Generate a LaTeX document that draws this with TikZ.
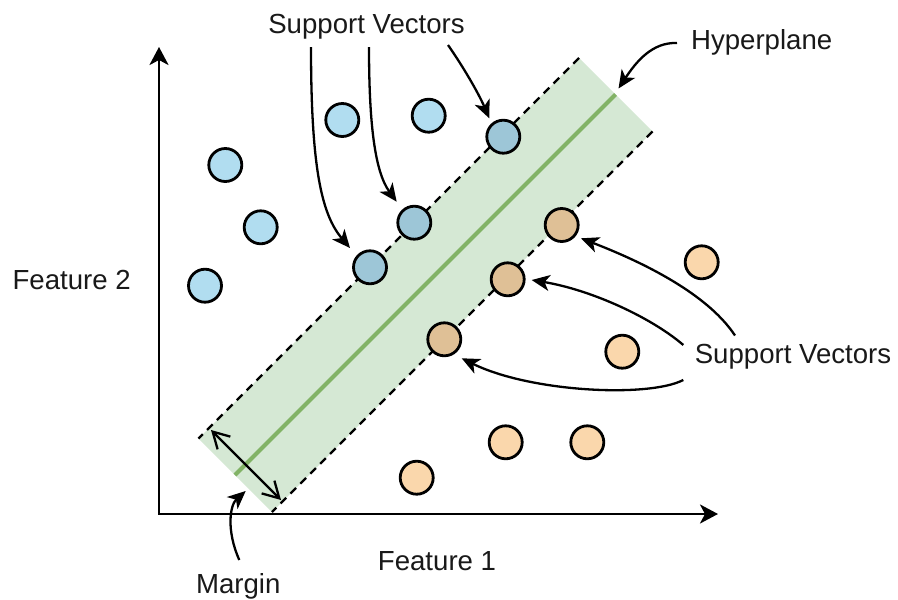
\documentclass[tikz,border=0pt]{standalone}
\usepackage{fontspec}
\setmainfont{Liberation Sans}
\usetikzlibrary{arrows.meta,calc}

\definecolor{bandgreen}{HTML}{D5E8D4}
\definecolor{planegreen}{HTML}{82B366}
\definecolor{blueA}{HTML}{B1DDF0}
\definecolor{blueSV}{HTML}{9DC6D7}
\definecolor{orangeA}{HTML}{FAD7AC}
\definecolor{orangeSV}{HTML}{DFC096}

\begin{document}
\begin{tikzpicture}[x=1pt,y=-1pt,
  datapt/.style={circle,draw=black,line width=2.8pt,minimum size=33pt,inner sep=0pt},
  classA/.style={datapt,fill=blueA},
  classAsv/.style={datapt,fill=blueSV},
  classB/.style={datapt,fill=orangeA},
  classBsv/.style={datapt,fill=orangeSV},
  lbl/.style={font=\fontsize{27.6}{33}\selectfont,anchor=base,inner sep=0pt,text=black!90},
  callout/.style={line width=2.3pt,-{Stealth[length=18pt,width=16pt,inset=5pt]}},
  axisline/.style={line width=2.8pt,-{Stealth[length=18pt,width=19pt,inset=5pt]}},
  marginline/.style={line width=2.3pt,dash pattern=on 8pt off 6pt},
  widthline/.style={line width=2.3pt,{Straight Barb[length=16pt,width=18pt]}-{Straight Barb[length=16pt,width=18pt]}}
]
\useasboundingbox (0,0) rectangle (898,600);
\fill[white] (0,0) rectangle (898,600);

% margin band corners and hyperplane ends
\coordinate (bandTL) at (579,58);
\coordinate (bandTR) at (652.5,131.5);
\coordinate (bandBR) at (272,512);
\coordinate (bandBL) at (198.5,438.5);
\coordinate (hpTop) at (615.5,94.5);
\coordinate (hpBot) at (235,475);

% margin band
\fill[bandgreen] (bandTL) -- (bandTR) -- (bandBR) -- (bandBL) -- cycle;
\draw[planegreen,line width=4pt] (hpBot) -- (hpTop);
\draw[marginline] (bandTL) -- (bandBL);
\draw[marginline] (bandTR) -- (bandBR);

% axes
\coordinate (origin) at (158,514);
\coordinate (xTip) at (718,514);
\coordinate (yTip) at (159,47);
\draw[axisline] (origin) -- (xTip);
\draw[axisline] (159,514) -- (yTip);

% margin width
\coordinate (mA) at (211,430);
\coordinate (mB) at (281,500);
\draw[widthline] (mA) -- (mB);

% class A points
\node[classA] (a1) at (342.3,120) {};
\node[classA] (a2) at (428.7,115.7) {};
\node[classA] (a3) at (225.3,165) {};
\node[classA] (a4) at (260.7,227.3) {};
\node[classA] (a5) at (205,285.7) {};
\node[classAsv] (sa1) at (503.3,136.7) {};
\node[classAsv] (sa2) at (414.3,222.7) {};
\node[classAsv] (sa3) at (370,267.3) {};

% class B points
\node[classB] (b1) at (701.7,262.3) {};
\node[classB] (b2) at (622.3,351.7) {};
\node[classB] (b3) at (505.7,442.3) {};
\node[classB] (b4) at (587.3,442.3) {};
\node[classB] (b5) at (416.7,477.7) {};
\node[classBsv] (sb1) at (561.7,225) {};
\node[classBsv] (sb2) at (507.7,279.3) {};
\node[classBsv] (sb3) at (444.3,339.3) {};

% labels
\node[lbl] (svTop) at (366.5,33) {Support Vectors};
\node[lbl] (svRight) at (793,363.3) {Support Vectors};
\node[lbl] (hpLabel) at (761.7,49) {Hyperplane};
\node[lbl] (feat2) at (71.7,289.3) {Feature 2};
\node[lbl] (feat1) at (437,570.7) {Feature 1};
\node[lbl] (mLabel) at (238.3,593.3) {Margin};

% callout start points
\coordinate (t1) at (311,47);
\coordinate (t2) at (369,47);
\coordinate (t3) at (448,45);
\coordinate (r1) at (735,335.5);
\coordinate (r2) at (683.3,345);
\coordinate (r3) at (683.3,380);
\coordinate (h1) at (677,43);
\coordinate (m1) at (239.3,560);

% callouts
\draw[callout] (t1) .. controls (311,170) and (322,215) .. ($(sa3)+(-20,-19.3)$);
\draw[callout] (t2) .. controls (369,125) and (375,172) .. ($(sa2)+(-17.6,-21)$);
\draw[callout] (t3) .. controls (462,65) and (478,92) .. ($(sa1)+(-14,-18.4)$);
\draw[callout] (r1) .. controls (705,290) and (632,258) .. ($(sb1)+(19.3,13.3)$);
\draw[callout] (r2) .. controls (652,318) and (592,290) .. ($(sb2)+(24,0.7)$);
\draw[callout] (r3) .. controls (648,398) and (530,392) .. ($(sb3)+(17.4,19)$);
\draw[callout] (h1) .. controls (652,42) and (636,62) .. ($(hpTop)+(3,-6)$);
\draw[callout] (m1) .. controls (226,530) and (230,505) .. ($(hpBot)+(10.7,16)$);
\end{tikzpicture}
\end{document}
